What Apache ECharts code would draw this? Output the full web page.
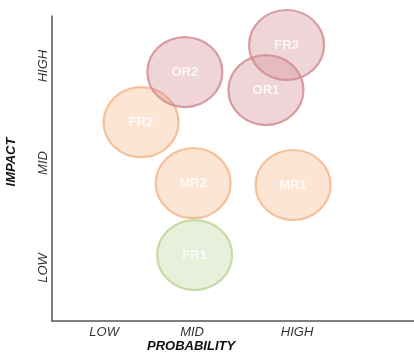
<!DOCTYPE html>
<html>
<head>
<meta charset="utf-8">
<script src="https://cdn.jsdelivr.net/npm/echarts@6/dist/echarts.min.js"></script>
<style>
  html, body { margin: 0; padding: 0; background: #fff; }
  #chart { width: 414px; height: 354px; }
</style>
</head>
<body>
<div id="chart"></div>
<script>
// Risk matrix: each risk placed by probability (x) and impact (y), scale 0-10
const riskNames   = ['FR2', 'OR2', 'FR3', 'OR1', 'MR2', 'MR1', 'FR1'];
const probability = [2.46, 3.67, 6.48, 5.91, 3.90, 6.66, 3.94];
const impact      = [6.52, 8.16, 9.05, 7.57, 4.52, 4.46, 2.16];
const riskGroup   = ['F', 'O', 'F3', 'O', 'M', 'M', 'G'];

// Level labels and where they sit on each scale
const xLevelLabels = ['LOW', 'MID', 'HIGH'];
const xLevelValues = [1.44, 3.87, 6.77];
const yLevelLabels = ['LOW', 'MID', 'HIGH'];
const yLevelValues = [1.74, 5.18, 8.36];

const groupStyle = {
  O:  { fill: 'rgba(212,138,145,0.45)', border: '#d08a90' },
  F3: { fill: 'rgba(212,138,145,0.45)', border: '#d08a90' },
  F:  { fill: 'rgba(250,182,136,0.45)', border: '#f4b486' },
  M:  { fill: 'rgba(250,182,136,0.45)', border: '#f4b486' },
  G:  { fill: 'rgba(198,216,166,0.50)', border: '#bcd495' }
};

const points = riskNames.map((n, i) => ({
  name: n,
  value: [probability[i], impact[i]],
  itemStyle: {
    color: groupStyle[riskGroup[i]].fill,
    borderColor: groupStyle[riskGroup[i]].border,
    borderWidth: 2.2
  }
}));

const labelFor = (labels, values) => v => {
  const i = values.findIndex(x => Math.abs(x - v) < 1e-6);
  return i >= 0 ? labels[i] : '';
};

const chart = echarts.init(document.getElementById('chart'), null, { renderer: 'canvas' });
chart.setOption({
  animation: false,
  grid: { left: 52, right: 0, top: 16, bottom: 33 },
  xAxis: {
    type: 'value', min: 0, max: 10,
    splitLine: { show: false },
    axisTick: { show: false },
    axisLine: { lineStyle: { color: '#555', width: 1.5 } },
    axisLabel: {
      customValues: xLevelValues,
      formatter: labelFor(xLevelLabels, xLevelValues),
      fontFamily: 'Liberation Sans', fontStyle: 'italic', fontSize: 13,
      color: '#333', margin: 5
    }
  },
  yAxis: {
    type: 'value', min: 0, max: 10,
    splitLine: { show: false },
    axisTick: { show: false },
    axisLine: { lineStyle: { color: '#555', width: 1.5 } },
    axisLabel: {
      customValues: yLevelValues,
      formatter: labelFor(yLevelLabels, yLevelValues),
      rotate: 90,
      fontFamily: 'Liberation Sans', fontStyle: 'italic', fontSize: 13,
      color: '#333', margin: 2
    }
  },
  graphic: [
    {
      type: 'text', left: 147, top: 340,
      style: { text: 'PROBABILITY', font: 'italic bold 13px "Liberation Sans"', fill: '#111' }
    },
    {
      type: 'text', x: 11, y: 162, rotation: Math.PI / 2,
      style: { text: 'IMPACT', font: 'italic bold 13px "Liberation Sans"', fill: '#111',
               align: 'center', verticalAlign: 'middle' }
    }
  ],
  series: [{
    type: 'scatter',
    symbol: 'circle',
    symbolSize: [75, 70],
    data: points,
    label: {
      show: true, position: 'inside', formatter: '{b}',
      color: '#fff', fontWeight: 'bold', fontSize: 13, fontFamily: 'Liberation Sans'
    }
  }]
});
</script>
</body>
</html>
